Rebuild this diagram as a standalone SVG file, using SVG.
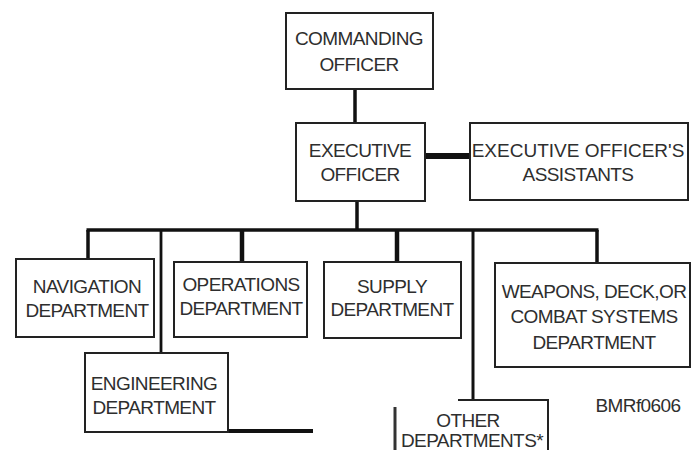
<svg xmlns="http://www.w3.org/2000/svg" width="692" height="450" viewBox="0 0 692 450">
<style>
.box{fill:#fff;stroke:#222;stroke-width:2}
.t{font-family:"Liberation Sans",Arial,sans-serif;font-size:19px;fill:#2e2e2e;text-anchor:middle;letter-spacing:-0.6px}
.c{stroke:#111;fill:none;stroke-linecap:butt}
</style>
<rect width="692" height="450" fill="#fff"/>
<g id="connectors">
<line class="c" x1="355" y1="89" x2="355" y2="123" stroke-width="3.5"/>
<line class="c" x1="425" y1="156" x2="470" y2="156" stroke-width="6"/>
<line class="c" x1="357" y1="201" x2="357" y2="230" stroke-width="3.5"/>
<line class="c" x1="86.5" y1="230" x2="598.5" y2="230" stroke-width="3.5"/>
<line class="c" x1="88" y1="230" x2="88" y2="259" stroke-width="3.5"/>
<line class="c" x1="161" y1="230" x2="161" y2="353" stroke-width="2.8"/>
<line class="c" x1="242" y1="230" x2="242" y2="262" stroke-width="4.5"/>
<line class="c" x1="397" y1="230" x2="397" y2="262" stroke-width="4.5"/>
<line class="c" x1="473" y1="230" x2="473" y2="400" stroke-width="3"/>
<line class="c" x1="597" y1="230" x2="597" y2="263" stroke-width="3.5"/>
<line class="c" x1="145" y1="431" x2="313" y2="431" stroke-width="4"/>
</g>
<g id="commanding-officer">
<rect class="box" x="286" y="13" width="147" height="76"/>
<text class="t" x="359" y="45">COMMANDING</text>
<text class="t" x="359" y="71">OFFICER</text>
</g>
<g id="executive-officer">
<rect class="box" x="296" y="123" width="129" height="78"/>
<text class="t" x="360" y="157">EXECUTIVE</text>
<text class="t" x="360" y="181">OFFICER</text>
</g>
<g id="xo-assistants">
<rect class="box" x="470" y="123" width="218" height="77"/>
<text class="t" x="578" y="157" style="letter-spacing:0">EXECUTIVE OFFICER'S</text>
<text class="t" x="578" y="181">ASSISTANTS</text>
</g>
<g id="navigation">
<rect class="box" x="16" y="259" width="138" height="78"/>
<text class="t" x="87" y="293">NAVIGATION</text>
<text class="t" x="87" y="317">DEPARTMENT</text>
</g>
<g id="engineering">
<rect class="box" x="85" y="353" width="143" height="79"/>
<text class="t" x="154" y="390">ENGINEERING</text>
<text class="t" x="154" y="414">DEPARTMENT</text>
</g>
<g id="operations">
<rect class="box" x="174" y="262" width="133" height="75"/>
<text class="t" x="241" y="291">OPERATIONS</text>
<text class="t" x="241" y="315">DEPARTMENT</text>
</g>
<g id="supply">
<rect class="box" x="324" y="262" width="137" height="76"/>
<text class="t" x="392" y="293">SUPPLY</text>
<text class="t" x="392" y="316">DEPARTMENT</text>
</g>
<g id="weapons">
<rect class="box" x="495" y="263" width="195" height="104"/>
<text class="t" x="594" y="298">WEAPONS, DECK,OR</text>
<text class="t" x="594" y="323">COMBAT SYSTEMS</text>
<text class="t" x="594" y="349">DEPARTMENT</text>
</g>
<g id="other-departments">
<path d="M458 400 H548 V452" fill="none" stroke="#222" stroke-width="2"/>
<line x1="395" y1="407" x2="395" y2="452" stroke="#333" stroke-width="3"/>
<text class="t" x="468" y="427">OTHER</text>
<text class="t" x="472" y="447">DEPARTMENTS*</text>
</g>
<g id="label">
<text class="t" x="638" y="412">BMRf0606</text>
</g>
</svg>
